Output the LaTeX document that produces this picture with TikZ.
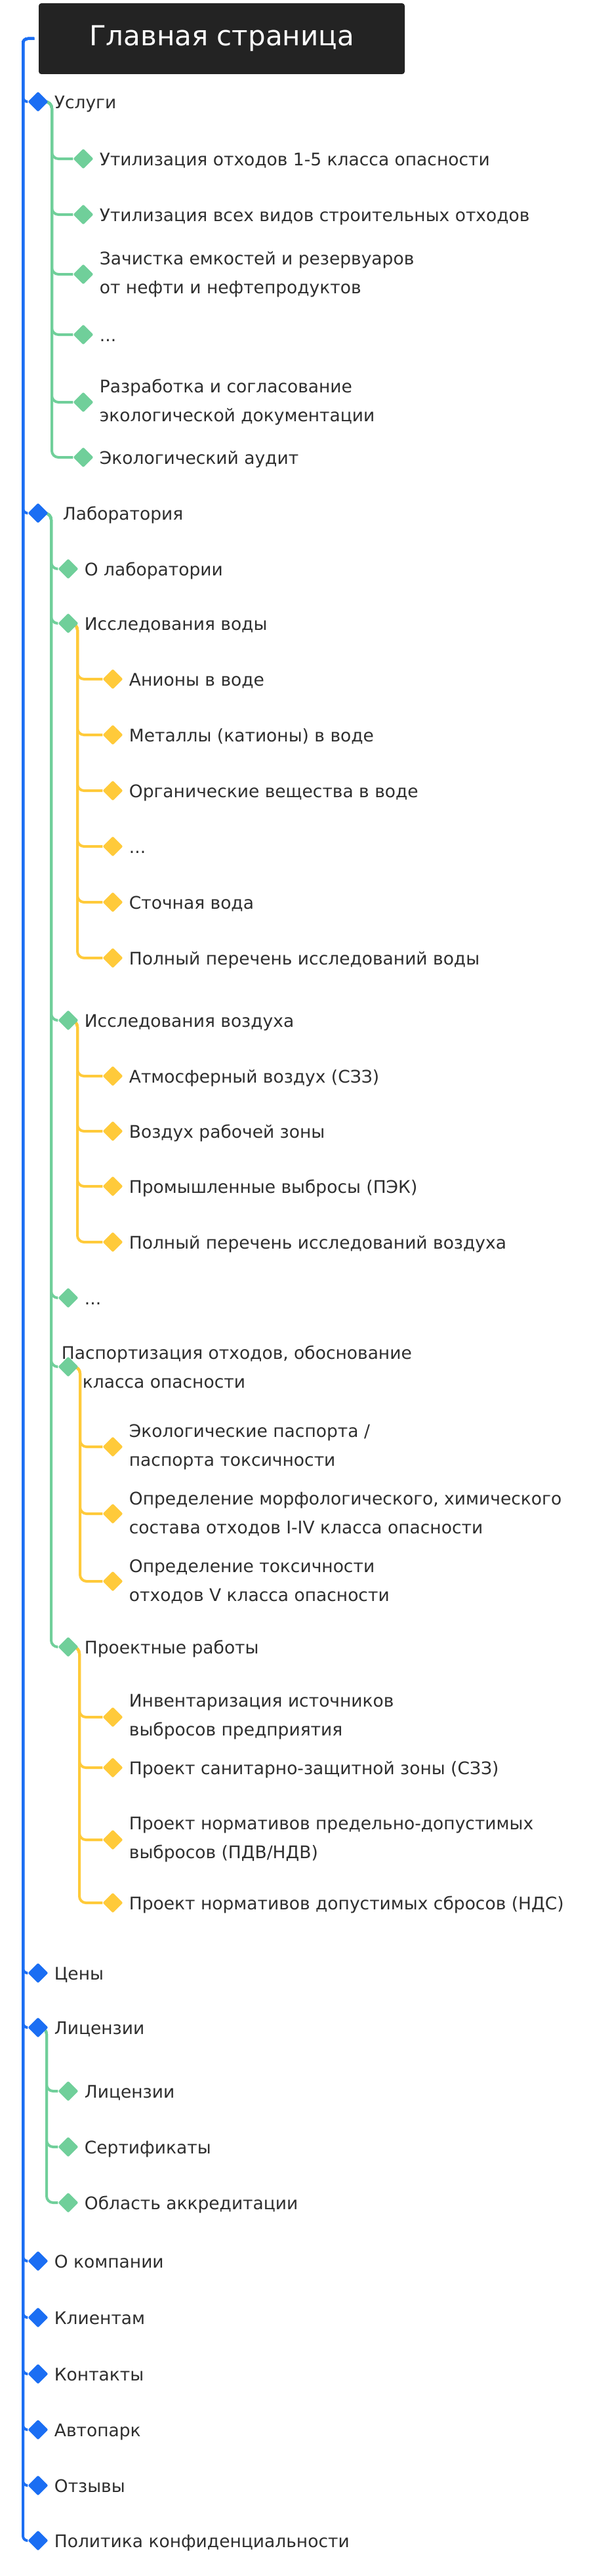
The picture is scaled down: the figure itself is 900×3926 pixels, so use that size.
\documentclass[tikz,border=0pt]{standalone}
\usepackage{fontspec}
\setmainfont{DejaVu Sans}
\usetikzlibrary{positioning,shapes.geometric,backgrounds}

\definecolor{mapblue}{HTML}{1B6EF3}
\definecolor{mapgreen}{HTML}{70CF9A}
\definecolor{mapyellow}{HTML}{FFCA3A}
\definecolor{maptext}{HTML}{2E2E2E}
\definecolor{mapdark}{HTML}{232323}

\tikzset{
  titlebox/.style={fill=mapdark, text=white, minimum width=558pt, minimum height=108pt,
    rounded corners=4pt, inner sep=0pt, font=\fontsize{42}{52}\selectfont},
  dia/.style={diamond, minimum size=31pt, inner sep=0pt, rounded corners=2pt},
  dblue/.style={dia, fill=mapblue},
  dgreen/.style={dia, fill=mapgreen},
  dyellow/.style={dia, fill=mapyellow},
  lbl/.style={inner sep=0pt, text=maptext, font=\fontsize{26.5}{44}\selectfont,
    text height=21pt, text depth=0pt},
  lbltwo/.style={inner sep=0pt, text=maptext, font=\fontsize{26.5}{44}\selectfont, align=left},
  bline/.style={draw=mapblue, line width=4pt, rounded corners=7pt},
  gline/.style={draw=mapgreen, line width=4pt, rounded corners=10pt},
  yline/.style={draw=mapyellow, line width=4pt, rounded corners=10pt}
}

\begin{document}
\begin{tikzpicture}[x=1pt,y=-1pt]
  \useasboundingbox (0,0) rectangle (900,3926);
  \node[titlebox] (glav) at (338,59) {Главная страница};
  \coordinate (top) at (52,59);
  \coordinate (tB) at (35,0);
  \coordinate (tU) at (79,0);
  \coordinate (tL) at (78,0);
  \coordinate (tW) at (118,0);
  \coordinate (tA) at (118,0);
  \coordinate (tP) at (122,0);
  \coordinate (tR) at (121,0);
  \coordinate (tC) at (71,0);

  % first level
  \node[dblue] (usl) at (58,155) {};
  \node[dblue] (lab) at (58,782) {};
  \node[dblue] (cen) at (58,3007) {};
  \node[dblue] (lic) at (58,3090) {};
  \node[dblue] (okm) at (58,3446) {};
  \node[dblue] (kli) at (58,3532) {};
  \node[dblue] (kon) at (58,3618) {};
  \node[dblue] (avt) at (58,3703) {};
  \node[dblue] (otz) at (58,3788) {};
  \node[dblue] (pol) at (58,3872) {};
  \node[lbl, right=9pt of usl] (uslt) {Услуги};
  \node[lbl, right=22pt of lab] (labt) {Лаборатория};
  \node[lbl, right=9pt of cen] (cent) {Цены};
  \node[lbl, right=9pt of lic] (lict) {Лицензии};
  \node[lbl, right=9pt of okm] (okmt) {О компании};
  \node[lbl, right=9pt of kli] (klit) {Клиентам};
  \node[lbl, right=9pt of kon] (kont) {Контакты};
  \node[lbl, right=9pt of avt] (avtt) {Автопарк};
  \node[lbl, right=9pt of otz] (otzt) {Отзывы};
  \node[lbl, right=9pt of pol] (polt) {Политика конфиденциальности};

  % services
  \node[dgreen] (u1) at (127,242) {};
  \node[dgreen] (u2) at (127,327) {};
  \node[dgreen] (u3) at (127,418) {};
  \node[dgreen] (u4) at (127,510) {};
  \node[dgreen] (u5) at (127,613) {};
  \node[dgreen] (u6) at (127,697) {};
  \node[lbl, right=9pt of u1] (u1t) {Утилизация отходов 1-5 класса опасности};
  \node[lbl, right=9pt of u2] (u2t) {Утилизация всех видов строительных отходов};
  \node[lbltwo, right=9pt of u3] (u3t) {Зачистка емкостей и резервуаров\\от нефти и нефтепродуктов};
  \node[lbl, right=9pt of u4] (u4t) {...};
  \node[lbltwo, right=9pt of u5] (u5t) {Разработка и согласование\\экологической документации};
  \node[lbl, right=9pt of u6] (u6t) {Экологический аудит};

  % laboratory
  \node[dgreen] (l1) at (104,867) {};
  \node[dgreen] (l2) at (104,950) {};
  \node[dgreen] (l3) at (104,1555) {};
  \node[dgreen] (l4) at (104,1978) {};
  \node[dgreen] (l5) at (104,2083) {};
  \node[dgreen] (l6) at (104,2510) {};
  \node[lbl, right=9pt of l1] (l1t) {О лаборатории};
  \node[lbl, right=9pt of l2] (l2t) {Исследования воды};
  \node[lbl, right=9pt of l3] (l3t) {Исследования воздуха};
  \node[lbl, right=9pt of l4] (l4t) {...};
  \node[lbltwo, right=-26pt of l5] (l5t) {Паспортизация отходов, обоснование\\\hspace*{32pt}класса опасности};
  \node[lbl, right=9pt of l6] (l6t) {Проектные работы};

  % water
  \node[dyellow] (w1) at (172,1035) {};
  \node[dyellow] (w2) at (172,1120) {};
  \node[dyellow] (w3) at (172,1205) {};
  \node[dyellow] (w4) at (172,1290) {};
  \node[dyellow] (w5) at (172,1375) {};
  \node[dyellow] (w6) at (172,1460) {};
  \node[lbl, right=9pt of w1] (w1t) {Анионы в воде};
  \node[lbl, right=9pt of w2] (w2t) {Металлы (катионы) в воде};
  \node[lbl, right=9pt of w3] (w3t) {Органические вещества в воде};
  \node[lbl, right=9pt of w4] (w4t) {...};
  \node[lbl, right=9pt of w5] (w5t) {Сточная вода};
  \node[lbl, right=9pt of w6] (w6t) {Полный перечень исследований воды};

  % air
  \node[dyellow] (a1) at (172,1640) {};
  \node[dyellow] (a2) at (172,1724) {};
  \node[dyellow] (a3) at (172,1808) {};
  \node[dyellow] (a4) at (172,1893) {};
  \node[lbl, right=9pt of a1] (a1t) {Атмосферный воздух (СЗЗ)};
  \node[lbl, right=9pt of a2] (a2t) {Воздух рабочей зоны};
  \node[lbl, right=9pt of a3] (a3t) {Промышленные выбросы (ПЭК)};
  \node[lbl, right=9pt of a4] (a4t) {Полный перечень исследований воздуха};

  % passports
  \node[dyellow] (p1) at (172,2205) {};
  \node[dyellow] (p2) at (172,2307) {};
  \node[dyellow] (p3) at (172,2410) {};
  \node[lbltwo, right=9pt of p1] (p1t) {Экологические паспорта /\\паспорта токсичности};
  \node[lbltwo, right=9pt of p2] (p2t) {Определение морфологического, химического\\состава отходов I-IV класса опасности};
  \node[lbltwo, right=9pt of p3] (p3t) {Определение токсичности\\отходов V класса опасности};

  % projects
  \node[dyellow] (r1) at (172,2617) {};
  \node[dyellow] (r2) at (172,2694) {};
  \node[dyellow] (r3) at (172,2804) {};
  \node[dyellow] (r4) at (172,2900) {};
  \node[lbltwo, right=9pt of r1] (r1t) {Инвентаризация источников\\выбросов предприятия};
  \node[lbl, right=9pt of r2] (r2t) {Проект санитарно-защитной зоны (СЗЗ)};
  \node[lbltwo, right=9pt of r3] (r3t) {Проект нормативов предельно-допустимых\\выбросов (ПДВ/НДВ)};
  \node[lbl, right=9pt of r4] (r4t) {Проект нормативов допустимых сбросов (НДС)};

  % licences
  \node[dgreen] (c1) at (104,3187) {};
  \node[dgreen] (c2) at (104,3272) {};
  \node[dgreen] (c3) at (104,3357) {};
  \node[lbl, right=9pt of c1] (c1t) {Лицензии};
  \node[lbl, right=9pt of c2] (c2t) {Сертификаты};
  \node[lbl, right=9pt of c3] (c3t) {Область аккредитации};

  \begin{scope}[on background layer]
    \foreach \n in {usl,lab,cen,lic,okm,kli,kon,avt,otz,pol}
      \draw[bline] (top) -| (tB |- \n.west) -- (\n.west);
    \foreach \n in {u1,u2,u3,u4,u5,u6}
      \draw[gline] (usl.center) -| (tU |- \n.west) -- (\n.west);
    \foreach \n in {l1,l2,l3,l4,l5,l6}
      \draw[gline] (lab.center) -| (tL |- \n.west) -- (\n.west);
    \foreach \n in {w1,w2,w3,w4,w5,w6}
      \draw[yline] (l2.center) -| (tW |- \n.west) -- (\n.west);
    \foreach \n in {a1,a2,a3,a4}
      \draw[yline] (l3.center) -| (tA |- \n.west) -- (\n.west);
    \foreach \n in {p1,p2,p3}
      \draw[yline] (l5.center) -| (tP |- \n.west) -- (\n.west);
    \foreach \n in {r1,r2,r3,r4}
      \draw[yline] (l6.center) -| (tR |- \n.west) -- (\n.west);
    \foreach \n in {c1,c2,c3}
      \draw[gline] (lic.center) -| (tC |- \n.west) -- (\n.west);
  \end{scope}
\end{tikzpicture}
\end{document}
